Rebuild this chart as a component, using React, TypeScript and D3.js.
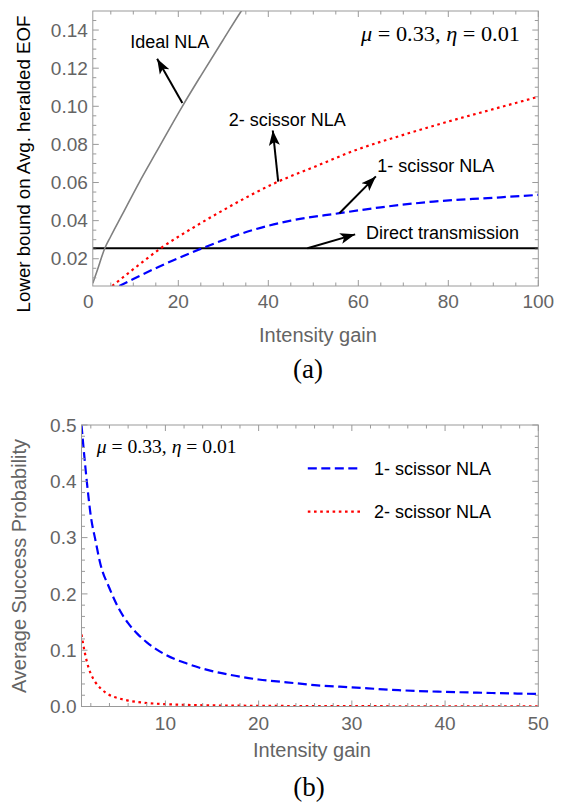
import React from "react";
import * as d3 from "d3";

// ---------- Panel (a): lower bound on average heralded EOF ----------
const idealGain = [1, 2, 3.67, 5, 7.5, 11.3, 15, 20.9, 25, 30, 34, 36];
const idealEOF = [0.0071, 0.014, 0.0255, 0.0318, 0.043, 0.06, 0.0755, 0.1, 0.116, 0.135, 0.15, 0.157];

const twoScissorGain = [5.3, 10, 16.1, 23.8, 30, 42.2, 50, 60, 70, 80, 90, 100];
const twoScissorEOF = [0.0057, 0.0145, 0.0255, 0.037, 0.0455, 0.0605, 0.068, 0.0775, 0.085, 0.092, 0.0985, 0.105];

const oneScissorGain = [6.9, 10, 15.7, 25.3, 36.6, 45, 55.8, 65, 76.7, 90, 100];
const oneScissorEOF = [0.0057, 0.0094, 0.0158, 0.0255, 0.0351, 0.04, 0.0439, 0.047, 0.05, 0.052, 0.0535];

const directGain = [1, 100];
const directEOF = [0.0255, 0.0255];

const xTicksA = [0, 20, 40, 60, 80, 100];
const yTicksA = [0.02, 0.04, 0.06, 0.08, 0.1, 0.12, 0.14];

// annotation arrows (data coords): [fromGain, fromEOF, toGain, toEOF]
const arrowsA = [
  [20.9, 0.1017, 15.3, 0.1249],
  [42.2, 0.0605, 41.0, 0.0873],
  [55.8, 0.0439, 63.9, 0.0632],
  [48.7, 0.0255, 59.3, 0.0328],
];
const labelTextA = ["Ideal NLA", "2- scissor NLA", "1- scissor NLA", "Direct transmission"];
const labelGainA = [18.1, 44.2, 77.2, 78.7];
const labelEOFA = [0.1341, 0.093, 0.0689, 0.0337];

// ---------- Panel (b): average success probability ----------
const oneScissorGainB = [1, 1.3, 1.6, 2, 2.5, 3, 4, 5, 6, 7, 8, 9, 10, 12, 14.5, 17, 20, 23, 26, 30, 35, 40, 45, 50];
const oneScissorProb = [0.5, 0.445, 0.395, 0.338, 0.295, 0.255, 0.21, 0.174, 0.148, 0.129, 0.114, 0.102, 0.092, 0.078, 0.065, 0.056, 0.048, 0.043, 0.038, 0.034, 0.029, 0.026, 0.024, 0.0222];

const twoScissorGainB = [1, 1.3, 1.6, 2, 2.5, 3, 4, 5, 6, 7, 9, 12, 15, 20, 30, 40, 50];
const twoScissorProb = [0.128, 0.1, 0.078, 0.058, 0.043, 0.033, 0.0205, 0.0145, 0.0105, 0.008, 0.005, 0.003, 0.002, 0.0012, 0.0006, 0.0004, 0.0003];

const xTicksB = [10, 20, 30, 40, 50];
const yTicksB = [0, 0.1, 0.2, 0.3, 0.4, 0.5];
const legendB = ["1- scissor NLA", "2- scissor NLA"];

const SANS = "'Liberation Sans', Arial, sans-serif";
const SERIF = "'Liberation Serif', 'Times New Roman', serif";
const GRAY = "#646464";
const FRAME = "#9a9a9a";

export default function App() {
  // scales panel a
  const xA = d3.scaleLinear().domain([1, 100]).range([92.8, 538.3]);
  const yA = d3.scaleLinear().domain([0.0057, 0.15]).range([286, 11]);
  // scales panel b
  const xB = d3.scaleLinear().domain([1, 50]).range([81.5, 538.3]);
  const yB = d3.scaleLinear().domain([0, 0.5]).range([706.5, 425]);

  const lineA = (gs: number[], vs: number[]) =>
    d3.line<number>().x((_, i) => xA(gs[i])).y((_, i) => yA(vs[i])).curve(d3.curveMonotoneX)(gs) || "";
  const lineB = (gs: number[], vs: number[]) =>
    d3.line<number>().x((_, i) => xB(gs[i])).y((_, i) => yB(vs[i])).curve(d3.curveMonotoneX)(gs) || "";

  const [a0, a1] = xA.range();
  const [aB, aT] = yA.range();
  const [b0, b1] = xB.range();
  const [bB, bT] = yB.range();

  const minorXA = d3.range(5, 100, 5).filter((v) => v % 20 !== 0);
  const minorYA = d3.range(0.01, 0.15, 0.005).filter((v) => Math.abs(v / 0.02 - Math.round(v / 0.02)) > 1e-6);
  const minorXB = d3.range(2, 50, 2).filter((v) => v % 10 !== 0);
  const minorYB = d3.range(0.02, 0.5, 0.02).filter((v) => Math.abs(v / 0.1 - Math.round(v / 0.1)) > 1e-6);

  const MAJ = 6;
  const MIN = 3.5;

  const frameTicks = (
    x: d3.ScaleLinear<number, number>,
    y: d3.ScaleLinear<number, number>,
    majX: number[],
    minX: number[],
    majY: number[],
    minY: number[],
    key: string
  ) => {
    const [l, r] = x.range();
    const [b, t] = y.range();
    const els: React.ReactNode[] = [];
    const addX = (v: number, len: number, k: string) => {
      const px = x(v);
      if (px < l - 0.5 || px > r + 0.5) return;
      els.push(<line key={key + "xb" + k} x1={px} x2={px} y1={b} y2={b - len} stroke={FRAME} strokeWidth={1} />);
      els.push(<line key={key + "xt" + k} x1={px} x2={px} y1={t} y2={t + len} stroke={FRAME} strokeWidth={1} />);
    };
    const addY = (v: number, len: number, k: string) => {
      const py = y(v);
      if (py > b + 0.5 || py < t - 0.5) return;
      els.push(<line key={key + "yl" + k} x1={l} x2={l + len} y1={py} y2={py} stroke={FRAME} strokeWidth={1} />);
      els.push(<line key={key + "yr" + k} x1={r} x2={r - len} y1={py} y2={py} stroke={FRAME} strokeWidth={1} />);
    };
    majX.forEach((v, i) => addX(v, MAJ, "M" + i));
    minX.forEach((v, i) => addX(v, MIN, "m" + i));
    majY.forEach((v, i) => addY(v, MAJ, "M" + i));
    minY.forEach((v, i) => addY(v, MIN, "m" + i));
    return els;
  };

  return (
    <svg
      width={568}
      height={804}
      style={{ position: "absolute", left: 0, top: 0, background: "#fff" }}
      fontFamily={SANS}
    >
      <defs>
        <clipPath id="clipA">
          <rect x={a0} y={aT} width={a1 - a0} height={aB - aT} />
        </clipPath>
        <clipPath id="clipB">
          <rect x={b0} y={bT} width={b1 - b0} height={bB - bT} />
        </clipPath>
        <marker
          id="arrowHead"
          markerUnits="userSpaceOnUse"
          markerWidth={16}
          markerHeight={12}
          refX={15}
          refY={6}
          orient="auto"
        >
          <path d="M0,0.5 L15,6 L0,11.5 L3.5,6 Z" fill="#000" />
        </marker>
      </defs>

      {/* ================= Panel (a) ================= */}
      <rect x={0} y={0} width={568} height={804} fill="#fff" />
      <g clipPath="url(#clipA)">
        <path d={lineA(directGain, directEOF)} fill="none" stroke="#000" strokeWidth={2} />
        <path d={lineA(idealGain, idealEOF)} fill="none" stroke="#808080" strokeWidth={1.6} />
        <path
          d={lineA(twoScissorGain, twoScissorEOF)}
          fill="none"
          stroke="#ff0000"
          strokeWidth={2.2}
          strokeDasharray="2.6,3.6"
        />
        <path
          d={lineA(oneScissorGain, oneScissorEOF)}
          fill="none"
          stroke="#0000ff"
          strokeWidth={2.2}
          strokeDasharray="9,4.5"
        />
      </g>
      <rect x={a0} y={aT} width={a1 - a0} height={aB - aT} fill="none" stroke={FRAME} strokeWidth={1} />
      {frameTicks(xA, yA, xTicksA, minorXA, yTicksA, minorYA, "A")}

      {/* arrows */}
      {arrowsA.map((a, i) => (
        <line
          key={"arr" + i}
          x1={xA(a[0])}
          y1={yA(a[1])}
          x2={xA(a[2])}
          y2={yA(a[3])}
          stroke="#000"
          strokeWidth={2}
          markerEnd="url(#arrowHead)"
        />
      ))}
      {labelTextA.map((t, i) => (
        <text
          key={"lab" + i}
          x={xA(labelGainA[i])}
          y={yA(labelEOFA[i])}
          dy="0.35em"
          textAnchor="middle"
          fontSize={18}
          fill="#000"
        >
          {t}
        </text>
      ))}
      <text
        x={361}
        y={yA(0.1376)}
        dy="0.33em"
        fontSize={20}
        fontFamily={SERIF}
        fill="#000"
        textLength={159}
        lengthAdjust="spacingAndGlyphs"
      >
        <tspan fontStyle="italic">μ</tspan>
        {" = 0.33, "}
        <tspan fontStyle="italic">η</tspan>
        {" = 0.01"}
      </text>

      {/* axes labels a */}
      {xTicksA.map((v) => (
        <text key={"xta" + v} x={xA(v)} y={307.5} textAnchor="middle" fontSize={19} fill={GRAY}>
          {v}
        </text>
      ))}
      {yTicksA.map((v) => (
        <text key={"yta" + v} x={a0 - 5} y={yA(v)} dy="0.35em" textAnchor="end" fontSize={19} fill={GRAY}>
          {d3.format(".2f")(v)}
        </text>
      ))}
      <text x={318} y={342} textAnchor="middle" fontSize={20} fill={GRAY}>
        Intensity gain
      </text>
      <text
        transform={`translate(23,164) rotate(-90)`}
        dy="0.35em"
        textAnchor="middle"
        fontSize={18.7}
        fill="#000"
      >
        Lower bound on Avg. heralded EOF
      </text>
      <text x={308} y={369} dy="0.35em" textAnchor="middle" fontSize={27} fontFamily={SERIF} fill="#000">
        (a)
      </text>

      {/* ================= Panel (b) ================= */}
      <g clipPath="url(#clipB)">
        <path
          d={lineB(oneScissorGainB, oneScissorProb)}
          fill="none"
          stroke="#0000ff"
          strokeWidth={2.2}
          strokeDasharray="9,4.5"
        />
        <path
          d={lineB(twoScissorGainB, twoScissorProb)}
          fill="none"
          stroke="#ff0000"
          strokeWidth={2.2}
          strokeDasharray="2.6,3.6"
        />
      </g>
      <rect x={b0} y={bT} width={b1 - b0} height={bB - bT} fill="none" stroke={FRAME} strokeWidth={1} />
      {frameTicks(xB, yB, xTicksB, minorXB, yTicksB, minorYB, "B")}

      {/* legend */}
      {legendB.map((t, i) => {
        const ly = 468.3 + i * 43.4;
        return (
          <g key={"leg" + i}>
            <line
              x1={307.8}
              x2={361.3}
              y1={ly}
              y2={ly}
              stroke={i === 0 ? "#0000ff" : "#ff0000"}
              strokeWidth={2.2}
              strokeDasharray={i === 0 ? "9,4.5" : "2.6,3.6"}
            />
            <text x={374} y={ly} dy="0.35em" fontSize={18} fill="#000">
              {t}
            </text>
          </g>
        );
      })}
      <text
        x={96.7}
        y={446.7}
        dy="0.33em"
        fontSize={18}
        fontFamily={SERIF}
        fill="#000"
        textLength={140}
        lengthAdjust="spacingAndGlyphs"
      >
        <tspan fontStyle="italic">μ</tspan>
        {" = 0.33, "}
        <tspan fontStyle="italic">η</tspan>
        {" = 0.01"}
      </text>

      {xTicksB.map((v) => (
        <text key={"xtb" + v} x={xB(v)} y={729.5} textAnchor="middle" fontSize={19} fill={GRAY}>
          {v}
        </text>
      ))}
      {yTicksB.map((v) => (
        <text key={"ytb" + v} x={b0 - 5} y={yB(v)} dy="0.35em" textAnchor="end" fontSize={19} fill={GRAY}>
          {d3.format(".1f")(v)}
        </text>
      ))}
      <text x={312} y={757} textAnchor="middle" fontSize={20} fill={GRAY}>
        Intensity gain
      </text>
      <text
        transform={`translate(19,566) rotate(-90)`}
        dy="0.35em"
        textAnchor="middle"
        fontSize={20}
        fill={GRAY}
      >
        Average Success Probability
      </text>
      <text x={309} y={787} dy="0.35em" textAnchor="middle" fontSize={27} fontFamily={SERIF} fill="#000">
        (b)
      </text>
    </svg>
  );
}
